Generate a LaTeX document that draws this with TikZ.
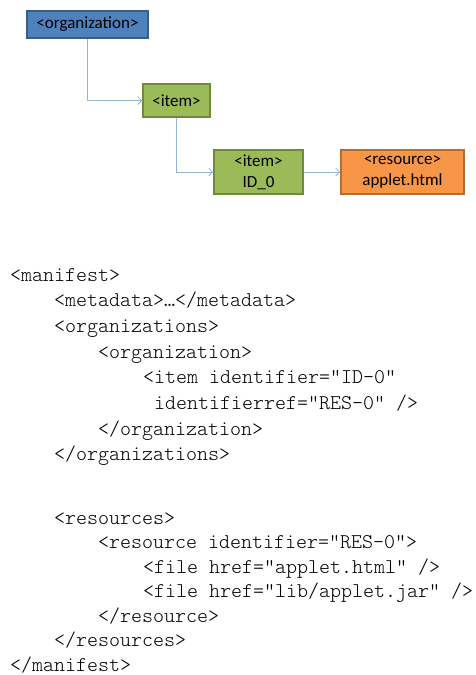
\documentclass[tikz,border=0pt]{standalone}
\usepackage{fontspec}
\setmainfont{Carlito}
\setmonofont{Latin Modern Mono Light}
\usetikzlibrary{arrows.meta}

\definecolor{orgfill}{HTML}{4F81BD}
\definecolor{orgline}{HTML}{385D8A}
\definecolor{itemfill}{HTML}{9BBB59}
\definecolor{itemline}{HTML}{71893F}
\definecolor{resfill}{HTML}{F79646}
\definecolor{resline}{HTML}{B66D31}
\definecolor{linkblue}{HTML}{95B3D7}

\begin{document}
\begin{tikzpicture}[x = 1pt, y = -1pt,
        box/.style = {draw, line width = 1.5pt, inner sep = 0pt, align = center,
            font = \fontsize{17}{21}\selectfont},
        link/.style = {draw = linkblue, line width = 0.8pt,
            -{Straight Barb[length = 4pt, width = 8pt]}},
        code/.style = {anchor = base west, inner sep = 0pt,
            font = \fontsize{20.95}{22}\ttfamily}]
    \useasboundingbox (0, 0) rectangle (475, 675);
    % tree of the manifest
    \node[box, fill = orgfill, draw = orgline, minimum width = 121pt, minimum height = 27pt]
        (org) at (87.5, 24.5) {<organization>};
    \node[box, fill = itemfill, draw = itemline, minimum width = 67pt, minimum height = 33pt]
        (item) at (176.5, 100.5) {<item>};
    \node[box, fill = itemfill, draw = itemline, minimum width = 89pt, minimum height = 44pt]
        (itemid) at (258.5, 172) {<item>\\ID\_0};
    \node[box, fill = resfill, draw = resline, minimum width = 123pt, minimum height = 44pt]
        (res) at (402.5, 172) {<resource>\\applet.html};
    \draw[link] (org.south) |- (item.west);
    \draw[link] (item.south) |- (itemid.west);
    \draw[link] (itemid.east) -- (res.west);
    % the xml listing
    \node[code] (c0) at (10, 281) {<manifest>};
        \node[code] (c1) at (54, 306.7) {<metadata>…</metadata>};
        \node[code] (c2) at (54, 332.4) {<organizations>};
            \node[code] (c3) at (98, 358.1) {<organization>};
                \node[code] (c4) at (143, 383.8) {<item identifier="ID-0"};
                \node[code] (c5) at (154, 409.5) {identifierref="RES-0" />};
            \node[code] (c6) at (98, 435.2) {</organization>};
        \node[code] (c7) at (54, 460.9) {</organizations>};
        \node[code] (c8) at (54, 524) {<resources>};
            \node[code] (c9) at (98, 548.5) {<resource identifier="RES-0">};
                \node[code] (c10) at (143, 573) {<file href="applet.html" />};
                \node[code] (c11) at (143, 597.5) {<file href="lib/applet.jar" />};
            \node[code] (c12) at (98, 622) {</resource>};
        \node[code] (c13) at (54, 646.5) {</resources>};
    \node[code] (c14) at (10, 671) {</manifest>};
\end{tikzpicture}
\end{document}
